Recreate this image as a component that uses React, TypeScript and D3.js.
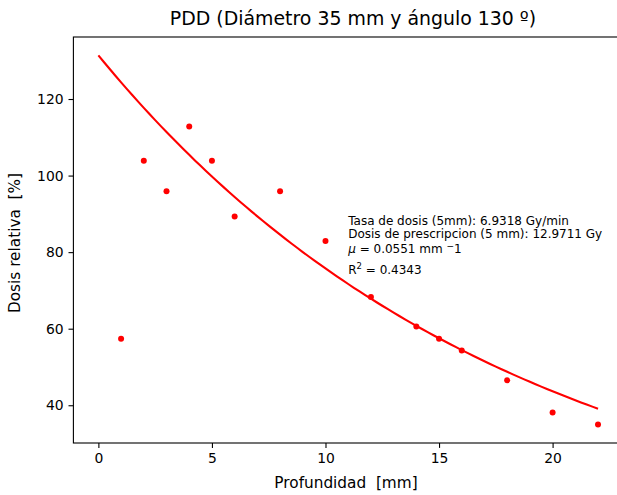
import React, { useEffect, useRef } from 'react';
import * as d3 from 'd3';

// measured depth / relative dose
const depths = [1, 2, 3, 4, 5, 6, 8, 10, 12, 14, 15, 16, 18, 20, 22];
const doses = [57.4, 103.9, 95.9, 112.8, 103.9, 89.3, 95.9, 82.9, 68.3, 60.6, 57.4, 54.3, 46.5, 38.1, 35.0];

// exponential fit  D(x) = A * exp(-mu * x)
const fitA = 131.4;
const fitMu = 0.0551;
const fitStart = 0;
const fitEnd = 22;

const xTicks = [0, 5, 10, 15, 20];
const yTicks = [40, 60, 80, 100, 120];

const title = 'PDD (Diámetro 35 mm y ángulo 130 º)';
const xLabel = 'Profundidad  [mm]';
const yLabel = 'Dosis relativa  [%]';
const noteLines = ['Tasa de dosis (5mm): 6.9318 Gy/min', 'Dosis de prescripcion (5 mm): 12.9711 Gy'];
const noteMu = '0.0551';
const noteR2 = '0.4343';

const W = 617;
const H = 495;
const margins = { left: 73.4, right: 623, top: 37, bottom: 443 };
const font = 'DejaVu Sans, sans-serif';

const Axis = ({ orient, scale, ticks, translate }: any) => {
  const ref = useRef<SVGGElement>(null);
  useEffect(() => {
    const axis = (orient === 'Bottom' ? d3.axisBottom(scale) : d3.axisLeft(scale))
      .tickValues(ticks)
      .tickSize(4.9)
      .tickPadding(4.9)
      .tickFormat(d3.format('d') as any);
    const g = d3.select(ref.current!).call(axis as any);
    g.select('.domain').remove();
    g.selectAll('line').attr('stroke', '#000').attr('stroke-width', 1.1);
    g.selectAll('text').attr('fill', '#000').style('font-size', '13.9px').style('font-family', font);
  });
  return <g ref={ref} transform={translate} />;
};

const App = () => {
  const xScale = d3.scaleLinear().domain([-1.1, 23.1]).range([margins.left, margins.right]);
  const yScale = d3.scaleLinear().domain([30.14, 136.2]).range([margins.bottom, margins.top]);

  const fitX = d3.range(fitStart, fitEnd + 0.001, 0.25);
  const line = d3.line<number>()
    .x((d) => xScale(d))
    .y((d) => yScale(fitA * Math.exp(-fitMu * d)));

  const noteX = xScale(11);
  const noteY = 225;
  const pre = { whiteSpace: 'pre' as const };

  return (
    <svg width={W} height={H} style={{ position: 'absolute', left: 0, top: 0, background: '#fff' }} fontFamily={font}>
      <rect x={0} y={0} width={W} height={H} fill="#fff" />
      <text x={353} y={25} textAnchor="middle" fontSize="18.9px" style={pre}>{title}</text>

      <path d={line(fitX) || ''} fill="none" stroke="#ff0000" strokeWidth={2.1} />
      {depths.map((d, i) => (
        <circle key={i} cx={xScale(d)} cy={yScale(doses[i])} r={3} fill="#ff0000" />
      ))}

      <rect x={margins.left} y={margins.top} width={margins.right - margins.left} height={margins.bottom - margins.top}
        fill="none" stroke="#000" strokeWidth={1.1} />
      <Axis orient="Bottom" scale={xScale} ticks={xTicks} translate={`translate(0,${margins.bottom})`} />
      <Axis orient="Left" scale={yScale} ticks={yTicks} translate={`translate(${margins.left},0)`} />

      <text x={346} y={488} textAnchor="middle" fontSize="15.3px" style={pre}>{xLabel}</text>
      <text transform={`translate(20,243)rotate(-90)`} textAnchor="middle" fontSize="15.3px" style={pre}>{yLabel}</text>

      <g fontSize="12px" style={pre}>
        <text x={noteX} y={noteY}>{noteLines[0]}</text>
        <text x={noteX} y={noteY + 12.8}>{noteLines[1]}</text>
        <text x={noteX} y={noteY + 28}>
          <tspan fontStyle="italic">μ</tspan>
          <tspan>{` = ${noteMu} mm `}</tspan>
          <tspan dy={-4} fontSize="9px">−</tspan>
          <tspan dy={4}>1</tspan>
        </text>
        <text x={noteX} y={noteY + 49}>
          <tspan>R</tspan>
          <tspan dy={-5} fontSize="8.5px">2</tspan>
          <tspan dy={5}>{` = ${noteR2}`}</tspan>
        </text>
      </g>
    </svg>
  );
};

export default App;
